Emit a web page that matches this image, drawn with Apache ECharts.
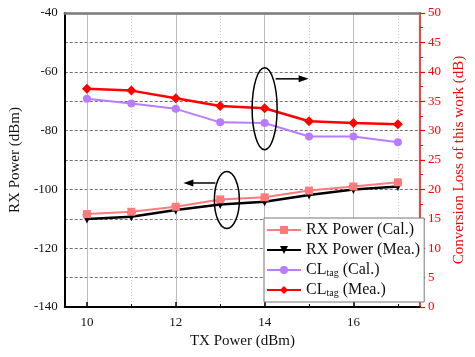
<!DOCTYPE html>
<html><head><meta charset="utf-8">
<script src="https://cdn.jsdelivr.net/npm/echarts@6/dist/echarts.min.js"></script>
<style>html,body{margin:0;padding:0;background:#fff}#c{width:475px;height:357px}</style>
</head><body><div id="c"></div>
<script>
const txPower = [10, 11, 12, 13, 14, 15, 16, 17];
const rxCal = [-108.4, -107.6, -105.9, -103.4, -102.7, -100.4, -99.0, -97.6];
const rxMea = [-110.1, -109.3, -107.0, -105.1, -104.2, -101.9, -100.0, -99.0];
const clCal = [35.4, 34.6, 33.7, 31.4, 31.3, 29.0, 29.0, 28.0];
const clMea = [37.1, 36.8, 35.5, 34.2, 33.8, 31.6, 31.3, 31.1];
const xMajorTicks = [10, 12, 14, 16];
const xMinorTicks = [11, 13, 15, 17];
const seriesNames = ['RX Power (Cal.)', 'RX Power (Mea.)', 'CLtag (Cal.)', 'CLtag (Mea.)'];

const FONT = 'Liberation Serif';
const pair = (xs, ys) => xs.map((x, i) => [x, ys[i]]);
const chart = echarts.init(document.getElementById('c'));
const option = {
  animation: false,
  backgroundColor: '#fff',
  grid: { left: 60, right: 51, top: 13, bottom: 50, containLabel: false },
  legend: {
    orient: 'vertical', left: 264, top: 218,
    width: 152, height: 84,
    backgroundColor: '#fff', borderColor: '#777', borderWidth: 1,
    padding: [4, 4, 4, 2],
    itemWidth: 34, itemHeight: 10, itemGap: 4,
    data: seriesNames,
    textStyle: {
      fontFamily: FONT, fontSize: 16, color: '#111', lineHeight: 16,
      rich: {
        n: { fontFamily: FONT, fontSize: 16, color: '#111', lineHeight: 16 },
        s: { fontFamily: FONT, fontSize: 10, color: '#111', lineHeight: 10, padding: [6, 0, 0, 0] }
      }
    },
    formatter: function (name) {
      if (name.indexOf('CLtag') === 0) {
        return '{n|CL}{s|tag}{n|' + name.slice(5) + '}';
      }
      return name;
    }
  },
  xAxis: [
    {
      type: 'value', min: 9.5, max: 17.5, position: 'bottom',
      name: 'TX Power (dBm)', nameLocation: 'middle', nameGap: 27,
      nameTextStyle: { fontFamily: FONT, fontSize: 15, color: '#111' },
      axisLine: { lineStyle: { color: '#000', width: 2 } },
      axisTick: { inside: true, length: 5, lineStyle: { color: '#000', width: 1.5 }, customValues: xMajorTicks },
      axisLabel: { fontFamily: FONT, fontSize: 13, color: '#111', margin: 9, customValues: xMajorTicks },
      splitLine: { show: true, lineStyle: { color: '#bdbdbd', width: 1 } }
    },
    {
      type: 'value', min: 9.5, max: 17.5, position: 'bottom',
      axisLine: { show: false },
      axisTick: { inside: true, length: 3, lineStyle: { color: '#000', width: 1 }, customValues: xMinorTicks },
      axisLabel: { show: false, customValues: xMinorTicks },
      splitLine: { show: true, lineStyle: { color: '#cfcfcf', width: 1, type: [1, 2] } }
    },
    {
      type: 'value', min: 9.5, max: 17.5, position: 'top',
      axisLine: { lineStyle: { color: '#7a7a7a', width: 2.5 } },
      axisTick: { show: false }, axisLabel: { show: false }, splitLine: { show: false }
    }
  ],
  yAxis: [
    {
      type: 'value', min: -140, max: -40, interval: 20, position: 'left',
      name: 'RX Power (dBm)', nameLocation: 'middle', nameGap: 33,
      nameTextStyle: { fontFamily: FONT, fontSize: 15, color: '#111' },
      axisLine: { show: true, lineStyle: { color: '#000', width: 2 } },
      axisTick: { show: false },
      axisLabel: { fontFamily: FONT, fontSize: 13, color: '#111', margin: 7 },
      splitLine: { show: true, lineStyle: { color: '#707070', width: 1, type: [3, 2] } },
      minorTick: { show: false, splitNumber: 2 },
      minorSplitLine: { show: true, lineStyle: { color: '#707070', width: 1, type: [3, 2] } }
    },
    {
      type: 'value', min: 0, max: 50, interval: 5, position: 'right',
      name: 'Conversion Loss of this work (dB)', nameLocation: 'middle', nameGap: 25, nameRotate: 90,
      nameTextStyle: { fontFamily: FONT, fontSize: 15, color: '#ff0000' },
      axisLine: { show: true, lineStyle: { color: '#ff0000', width: 1.5 } },
      axisTick: { show: true, length: 5, lineStyle: { color: '#ff0000', width: 1.2 } },
      minorTick: { show: true, splitNumber: 2, length: 3, lineStyle: { color: '#ff0000', width: 1 } },
      axisLabel: { fontFamily: FONT, fontSize: 13, color: '#ff0000', margin: 8 },
      splitLine: { show: false }
    }
  ],
  series: [
    {
      name: seriesNames[0], type: 'line', xAxisIndex: 0, yAxisIndex: 0,
      data: pair(txPower, rxCal), symbol: 'rect', symbolSize: 8,
      lineStyle: { color: '#ff7a7a', width: 2 }, itemStyle: { color: '#ff7a7a' }, z: 3
    },
    {
      name: seriesNames[1], type: 'line', xAxisIndex: 0, yAxisIndex: 0,
      data: pair(txPower, rxMea), symbol: 'triangle', symbolRotate: 180, symbolSize: 9,
      lineStyle: { color: '#000', width: 2.5 }, itemStyle: { color: '#000' }, z: 2
    },
    {
      name: seriesNames[2], type: 'line', xAxisIndex: 0, yAxisIndex: 1,
      data: pair(txPower, clCal), symbol: 'circle', symbolSize: 8,
      lineStyle: { color: '#b77cff', width: 2 }, itemStyle: { color: '#b77cff' }, z: 3
    },
    {
      name: seriesNames[3], type: 'line', xAxisIndex: 0, yAxisIndex: 1,
      data: pair(txPower, clMea), symbol: 'diamond', symbolSize: 10,
      lineStyle: { color: '#ff0000', width: 2.5 }, itemStyle: { color: '#ff0000' }, z: 4
    }
  ]
};
chart.setOption(option);

// annotation ellipses and arrows anchored to data coordinates
const e1 = chart.convertToPixel({ xAxisIndex: 0, yAxisIndex: 1 }, [14, 33.7]);
const e2 = chart.convertToPixel({ xAxisIndex: 0, yAxisIndex: 0 }, [13.15, -103.6]);
function arrow(x1, y, x2) {
  const dir = x2 > x1 ? 1 : -1;
  return [
    { type: 'line', shape: { x1: x1, y1: y, x2: x2 - dir * 6, y2: y }, style: { stroke: '#000', lineWidth: 1.5 }, z: 100 },
    { type: 'polygon', shape: { points: [[x2, y], [x2 - dir * 10, y - 3.5], [x2 - dir * 10, y + 3.5]] }, style: { fill: '#000' }, z: 100 }
  ];
}
chart.setOption({
  graphic: [
    { type: 'ellipse', shape: { cx: e1[0], cy: e1[1], rx: 12.5, ry: 41 }, style: { fill: 'none', stroke: '#000', lineWidth: 1.5 }, z: 100 },
    { type: 'ellipse', shape: { cx: e2[0], cy: e2[1], rx: 12.5, ry: 28.5 }, style: { fill: 'none', stroke: '#000', lineWidth: 1.5 }, z: 100 }
  ].concat(arrow(e1[0] + 11, e1[1] - 30, e1[0] + 44)).concat(arrow(e2[0] - 11.5, e2[1] - 17, e2[0] - 43.5))
});
</script>
</body></html>
